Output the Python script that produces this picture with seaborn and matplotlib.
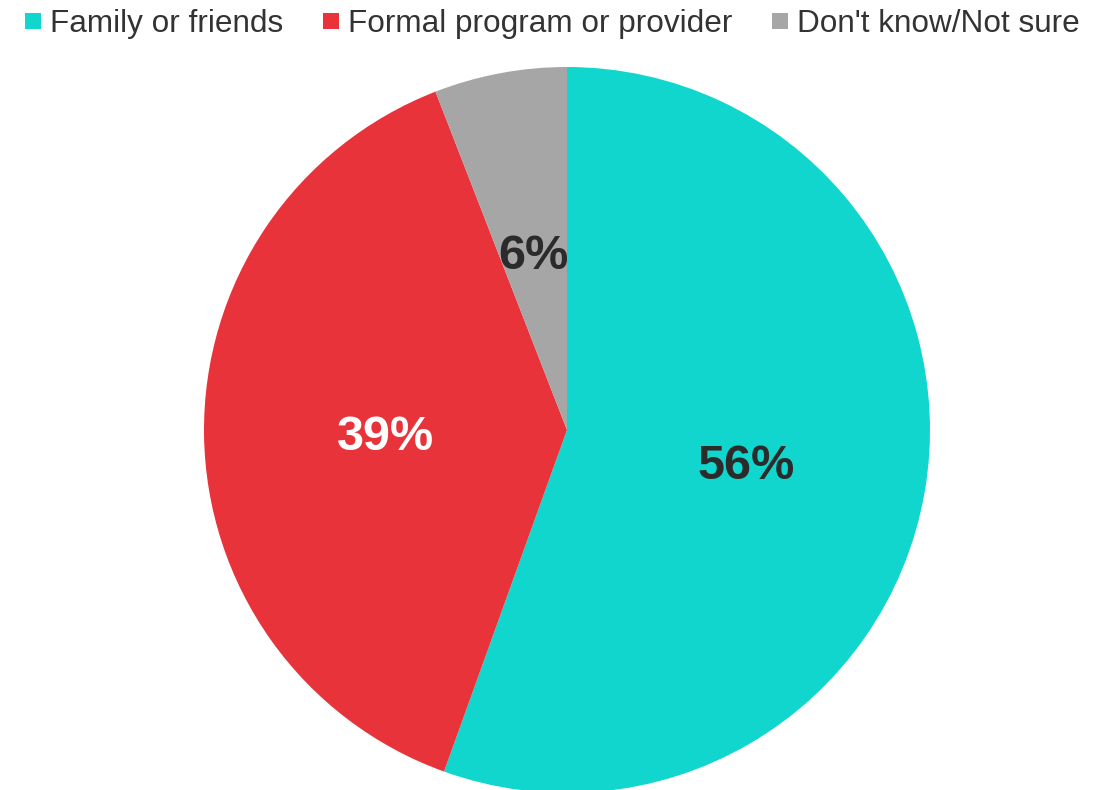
import matplotlib
matplotlib.use("Agg")
import matplotlib.pyplot as plt
from matplotlib.lines import Line2D
import seaborn as sns

categories = ["Family or friends", "Formal program or provider", "Don't know/Not sure"]
values = [55.5, 38.6, 5.9]
labels = ["56%", "39%", "6%"]
colors = ["#10D6CD", "#E8333A", "#A6A6A6"]
label_colors = ["#2B2B2B", "#FFFFFF", "#2B2B2B"]

sns.set_theme(style="white")
plt.rcParams["font.family"] = ["Liberation Sans", "DejaVu Sans"]

W, H = 1112, 790
fig = plt.figure(figsize=(W / 100, H / 100), dpi=100)
cx, cy, r = 567, 430, 363
ax = fig.add_axes([(cx - r) / W, (H - cy - r) / H, 2 * r / W, 2 * r / H])
pal = sns.color_palette(colors)
wedges, texts = ax.pie(values, colors=pal, startangle=90, counterclock=False,
                       radius=1, labels=labels, labeldistance=0.5,
                       wedgeprops=dict(linewidth=0),
                       textprops=dict(fontsize=35, fontweight="bold", ha="center",
                                      va="center_baseline"))
for t, c in zip(texts, label_colors):
    t.set_color(c)
ax.set_xlim(-1, 1)
ax.set_ylim(-1, 1)
ax.set_aspect("equal")
ax.axis("off")
for w in wedges:
    w.set_clip_on(False)

handles = [Line2D([0], [0], marker="s", linestyle="", markersize=11,
                  markerfacecolor=c, markeredgewidth=0) for c in colors]
fig.legend(handles, categories, loc="upper center", bbox_to_anchor=(0.496, 1.004),
           ncol=3, frameon=False, fontsize=22.7, labelcolor="#333333",
           handlelength=0.6, handletextpad=0.25, columnspacing=1.2,
           borderaxespad=0.0)

fig.savefig("out.png", dpi=100, facecolor="white")
